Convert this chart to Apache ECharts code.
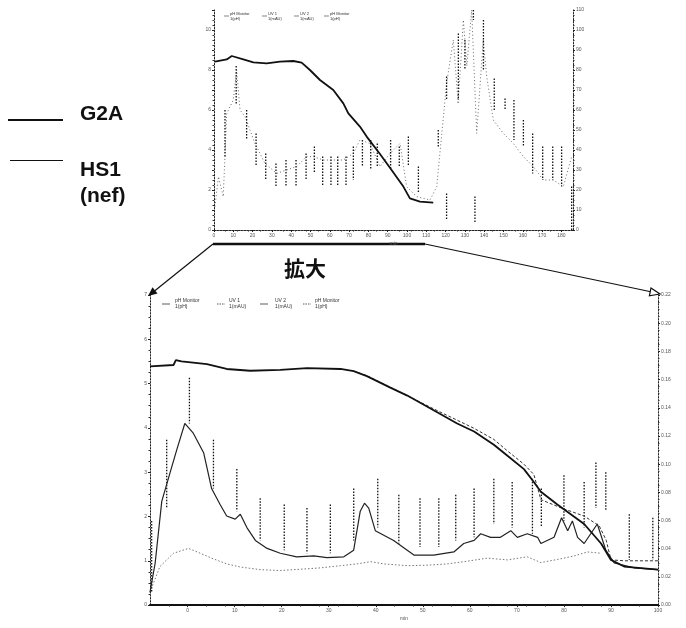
<!DOCTYPE html>
<html><head><meta charset="utf-8">
<script src="https://cdn.jsdelivr.net/npm/echarts@6/dist/echarts.min.js"></script>
<style>html,body{margin:0;padding:0;background:#fff}#c{width:686px;height:628px}</style>
</head><body><div id="c"></div><script>
// ---------- DATA ----------
// Top (overview) chromatogram: [time, value]
const topGradient = [[0.5,8.42],[6.6,8.53],[9.2,8.70],[15.2,8.53],[20.4,8.38],[27.3,8.33],[34.2,8.42],[41.1,8.45],[45.4,8.37],[49.7,8.0],[54.9,7.5],[61.8,7.0],[67.0,6.33],[69.6,5.83],[75.6,5.17],[79.1,4.67],[86.0,3.8],[92.0,3.0],[98.1,2.17],[101.5,1.58],[106.7,1.42],[113.6,1.37]];
const topTrace = [[0.5,1.17],[2.3,2.67],[4.8,1.67],[6.6,5.83],[10.0,6.5],[11.7,8.0],[13.5,6.0],[16.1,5.67],[21.2,4.33],[26.4,3.33],[32.5,2.83],[37.6,3.0],[42.8,3.17],[48.0,3.67],[51.5,3.67],[56.6,3.5],[61.8,3.5],[67.0,3.5],[72.2,3.83],[75.6,4.5],[80.8,4.33],[86.0,3.17],[91.2,3.83],[96.4,4.33],[99.8,2.17],[105.0,1.67],[111.9,1.5],[115.4,2.17],[120.5,7.33],[124.0,9.5],[126.5,6.3],[129.2,10.5],[131.0,8.2],[133.5,11.0],[136.1,4.83],[139.5,9.5],[141.3,7.67],[144.7,5.5],[149.9,4.83],[155.1,4.33],[160.3,3.67],[165.4,3.17],[170.6,2.5],[175.8,2.5],[181.0,2.17],[185.3,3.67]];
// Top peak markers: [time, top, bottom]
const topMarkers = [[5.7,6.0,3.67],[11.5,8.2,6.3],[16.9,6.0,4.5],[21.8,4.83,3.17],[26.8,3.83,2.5],[32.1,3.33,2.17],[37.3,3.5,2.17],[42.5,3.5,2.17],[47.7,3.83,2.5],[52.0,4.17,2.83],[56.3,3.67,2.17],[60.6,3.67,2.17],[64.1,3.67,2.17],[68.4,3.67,2.17],[72.2,4.17,2.5],[76.9,4.5,3.17],[81.2,4.5,3.0],[84.6,4.33,3.17],[91.5,4.5,3.0],[96.0,4.17,3.17],[100.7,4.67,3.17],[105.9,3.17,1.83],[116.2,5.0,4.17],[120.5,7.67,6.5],[120.5,1.83,0.5],[126.6,9.83,6.5],[130.0,9.5,8.0],[134.4,11.0,10.5],[135.2,1.67,0.33],[139.6,10.5,8.0],[145.2,7.58,6.0],[150.8,6.58,6.0],[155.4,6.5,4.5],[160.3,5.5,4.17],[165.1,4.83,2.83],[170.3,4.17,2.5],[175.5,4.17,2.5],[180.1,4.17,2.17],[185.3,2.17,0.0]];

// Bottom (enlarged) chromatogram
const g2aGradient = [[-8.0,5.39],[-3.0,5.42],[-2.5,5.53],[-1.3,5.50],[4.1,5.44],[8.3,5.33],[13.3,5.29],[19.7,5.31],[25.4,5.35],[32.5,5.33],[35.3,5.28],[38.1,5.17],[43.1,4.91],[46.7,4.73],[52.3,4.40],[57.3,4.10],[60.9,3.92],[65.1,3.62],[68.0,3.37],[71.5,3.07],[73.6,2.78],[75.1,2.56],[78.6,2.27],[84.3,1.83],[87.9,1.39],[90.0,1.02],[92.8,0.87],[100.0,0.80]];
const hs1Gradient = [[35.3,5.28],[38.1,5.18],[52.3,4.43],[60.9,3.99],[65.1,3.74],[68.0,3.48],[71.5,3.18],[73.6,2.95],[75.1,2.38],[79.5,2.19],[84.3,2.01],[87.5,1.79],[89.0,1.46],[90.0,1.02],[93.0,1.00],[100.0,1.00]];
const g2aTrace = [[-8.0,0.29],[-6.9,0.95],[-5.5,2.34],[-3.7,3.0],[-2.3,3.51],[-0.6,4.10],[1.2,3.88],[3.4,3.44],[5.1,2.63],[6.9,2.27],[8.3,2.01],[10.1,1.94],[11.2,2.05],[12.6,1.75],[14.4,1.46],[16.9,1.28],[19.7,1.17],[23.2,1.09],[26.8,1.11],[29.6,1.07],[33.2,1.09],[35.3,1.24],[36.7,2.12],[37.6,2.30],[38.5,2.19],[39.9,1.68],[43.8,1.46],[48.1,1.13],[52.3,1.13],[56.6,1.20],[58.7,1.39],[60.9,1.46],[62.3,1.61],[64.4,1.53],[66.5,1.53],[68.7,1.68],[70.1,1.53],[72.2,1.61],[74.4,1.53],[75.1,1.39],[77.9,1.53],[79.5,1.97],[80.8,1.68],[81.8,1.90],[82.9,1.53],[84.3,1.39],[85.7,1.61],[87.1,1.83],[88.9,1.24],[90.7,0.95],[95.0,0.84],[100.0,0.80]];
const hs1Trace = [[-8.0,0.29],[-5.9,0.87],[-3.0,1.17],[0.2,1.28],[2.7,1.17],[5.1,1.06],[8.3,0.93],[11.2,0.86],[15.4,0.80],[19.7,0.78],[24.0,0.81],[28.2,0.84],[32.5,0.89],[36.0,0.93],[38.9,0.98],[41.7,0.93],[46.7,0.89],[50.9,0.90],[55.2,0.93],[59.4,0.99],[63.7,1.06],[68.0,1.02],[72.2,1.09],[75.1,0.96],[78.6,1.03],[82.2,1.11],[85.0,1.20],[87.9,1.17]];
const bottomMarkers = [[-7.65,1.90,0.29],[-4.45,3.73,2.19],[0.38,5.13,4.10],[5.49,3.73,2.63],[10.46,3.07,2.12],[15.43,2.41,1.46],[20.54,2.27,1.24],[25.37,2.19,1.17],[30.34,2.27,1.17],[35.31,2.63,1.46],[40.42,2.85,1.75],[44.9,2.49,1.39],[49.4,2.41,1.31],[53.4,2.41,1.31],[57.0,2.49,1.46],[60.9,2.63,1.53],[65.1,2.85,1.83],[69.0,2.78,1.75],[73.3,2.85,1.61],[75.2,2.63,1.75],[80.0,2.93,1.90],[84.3,2.78,1.75],[86.8,3.22,2.19],[88.9,3.00,2.12],[93.9,2.05,1.02],[98.9,1.97,1.02]];

const topXTicks = [0,10,20,30,40,50,60,70,80,90,100,110,120,130,140,150,160,170,180];
const bottomXTicks = [0,10,20,30,40,50,60,70,80,90,100];
const seriesNames = ['G2A', 'HS1', '(nef)'];
const curveLegend = [['pH Monitor', '1(pH)'], ['UV 1', '1(mAU)'], ['UV 2', '1(mAU)'], ['pH Monitor', '1(pH)']];
const zoomLabel = '拡大';

// ---------- CHART ----------
const chart = echarts.init(document.getElementById('c'), null, {renderer: 'canvas'});
const tiny = {fontSize: 5, color: '#555', fontFamily: 'Liberation Sans'};
const dotted = {color: '#222', type: [1.5, 1.5], width: 1};

function xAx(grid, min, max, ticks, extra) {
  return Object.assign({
    type: 'value', gridIndex: grid, min: min, max: max, splitLine: {show: false},
    axisLine: {show: true, lineStyle: dotted},
    axisTick: {show: true, customValues: ticks, length: 2, lineStyle: {color: '#222'}},
    axisLabel: Object.assign({customValues: ticks, margin: 3}, tiny),
    minorTick: {show: true, splitNumber: 5, length: 1.5, lineStyle: {color: '#333'}}
  }, extra || {});
}
function yAx(grid, pos, min, max, fmt) {
  return {
    type: 'value', gridIndex: grid, position: pos, min: min, max: max, interval: 1,
    splitLine: {show: false},
    axisLine: {show: true, onZero: false, lineStyle: dotted},
    axisTick: {show: true, length: 2, inside: false, lineStyle: {color: '#222'}},
    minorTick: {show: true, splitNumber: 4, length: 1.5, lineStyle: {color: '#333'}},
    axisLabel: Object.assign({margin: 3, formatter: fmt}, tiny)
  };
}
function lineS(data, xi, yi, color, width, type) {
  return {type: 'line', xAxisIndex: xi, yAxisIndex: yi, data: data, showSymbol: false,
    silent: true, smooth: false, lineStyle: {color: color, width: width, type: type || 'solid'}, z: 3};
}
function markerS(data, xi, yi) {
  return {type: 'custom', xAxisIndex: xi, yAxisIndex: yi, data: data, silent: true,
    encode: {x: 0, y: [1, 2]},
    renderItem: function (params, api) {
      const a = api.coord([api.value(0), api.value(1)]);
      const b = api.coord([api.value(0), api.value(2)]);
      return {type: 'line', shape: {x1: a[0], y1: a[1], x2: b[0], y2: b[1]},
        style: {stroke: '#111', lineWidth: 1.3, lineDash: [1.5, 1.5]}};
    }};
}

const bigFont = 'bold 21px "Liberation Sans", Arial';
const graphics = [];
// left legend
graphics.push({type: 'line', shape: {x1: 8, y1: 120, x2: 63, y2: 120}, style: {stroke: '#111', lineWidth: 2}});
graphics.push({type: 'text', x: 80, y: 114, style: {text: seriesNames[0], font: bigFont, fill: '#111', textVerticalAlign: 'middle'}});
graphics.push({type: 'line', shape: {x1: 10, y1: 160.5, x2: 63, y2: 160.5}, style: {stroke: '#111', lineWidth: 1}});
graphics.push({type: 'text', x: 80, y: 170, style: {text: seriesNames[1], font: bigFont, fill: '#111', textVerticalAlign: 'middle'}});
graphics.push({type: 'text', x: 80, y: 196, style: {text: seriesNames[2], font: bigFont, fill: '#111', textVerticalAlign: 'middle'}});
// zoom bracket and arrows
graphics.push({type: 'line', shape: {x1: 213, y1: 244, x2: 425, y2: 244}, style: {stroke: '#111', lineWidth: 2.5}});
graphics.push({type: 'line', shape: {x1: 213, y1: 244, x2: 152, y2: 293}, style: {stroke: '#111', lineWidth: 1.2}});
graphics.push({type: 'polygon', shape: {points: [[148, 296], [157.5, 293.5], [152.5, 287.3]]}, style: {fill: '#111'}});
graphics.push({type: 'line', shape: {x1: 425, y1: 244, x2: 652, y2: 292}, style: {stroke: '#111', lineWidth: 1.2}});
graphics.push({type: 'polygon', shape: {points: [[660, 294], [649.4, 295.8], [651.0, 288.0]]}, style: {fill: '#fff', stroke: '#111', lineWidth: 1.2}});
graphics.push({type: 'text', x: 305, y: 268, style: {text: zoomLabel, font: 'bold 21px "Noto Sans CJK JP"', fill: '#111', textAlign: 'center', textVerticalAlign: 'middle'}});
// tiny curve legends
const botLeg = [[162, 175], [217, 229], [260, 275], [303, 315]];
const topLeg = [[224, 230], [262, 268], [294, 300], [324, 330]];
curveLegend.forEach(function (t, i) {
  graphics.push({type: 'line', shape: {x1: botLeg[i][0], y1: 304, x2: botLeg[i][0] + 8, y2: 304}, style: {stroke: '#333', lineWidth: 0.8, lineDash: i % 2 ? [1.5, 1] : null}});
  graphics.push({type: 'text', x: botLeg[i][1], y: 298, style: {text: t[0] + '\n' + t[1], font: '5px "Liberation Sans"', fill: '#333', lineHeight: 6}});
  graphics.push({type: 'line', shape: {x1: topLeg[i][0], y1: 16, x2: topLeg[i][0] + 5, y2: 16}, style: {stroke: '#333', lineWidth: 0.6}});
  graphics.push({type: 'text', x: topLeg[i][1], y: 12, style: {text: t[0] + '\n' + t[1], font: '4px "Liberation Sans"', fill: '#333', lineHeight: 4.5}});
});

const option = {
  backgroundColor: '#fff',
  animation: false,
  grid: [
    {left: 214, top: 10, width: 359, height: 220, containLabel: false},
    {left: 150, top: 295, width: 508, height: 318, containLabel: false}
  ],
  xAxis: [
    xAx(0, 0, 186, topXTicks, {name: 'min', nameLocation: 'middle', nameGap: 11, nameTextStyle: tiny}),
    xAx(1, -8, 100, bottomXTicks, {name: 'min', nameLocation: 'middle', nameGap: 11, nameTextStyle: tiny}),
    {type: 'value', gridIndex: 0, position: 'top', min: 0, max: 186, axisLine: {show: true, lineStyle: dotted}, axisTick: {show: false}, axisLabel: {show: false}, splitLine: {show: false}},
    {type: 'value', gridIndex: 1, position: 'top', min: -8, max: 100, axisLine: {show: true, lineStyle: {color: '#111', width: 2}}, axisTick: {show: false}, axisLabel: {show: false}, splitLine: {show: false}}
  ],
  yAxis: [
    yAx(0, 'left', 0, 11, function (v) { return v % 2 ? '' : String(v); }),
    yAx(0, 'right', 0, 11, function (v) { return String(v * 10); }),
    yAx(1, 'left', 0, 7, function (v) { return String(v); }),
    yAx(1, 'right', 0, 11, function (v) { return (v * 0.02).toFixed(2); })
  ],
  graphic: graphics,
  series: [
    markerS(topMarkers, 0, 0),
    lineS(topGradient, 0, 0, '#111', 1.8),
    lineS(topTrace, 0, 0, '#444', 0.8, [1, 2.5]),
    markerS(bottomMarkers, 1, 2),
    lineS(hs1Trace, 1, 2, '#666', 0.9, [1.5, 2]),
    lineS(g2aTrace, 1, 2, '#222', 1.2),
    lineS(hs1Gradient, 1, 2, '#333', 1, [3, 2]),
    lineS(g2aGradient, 1, 2, '#111', 1.8)
  ]
};
chart.setOption(option);
</script></body></html>
